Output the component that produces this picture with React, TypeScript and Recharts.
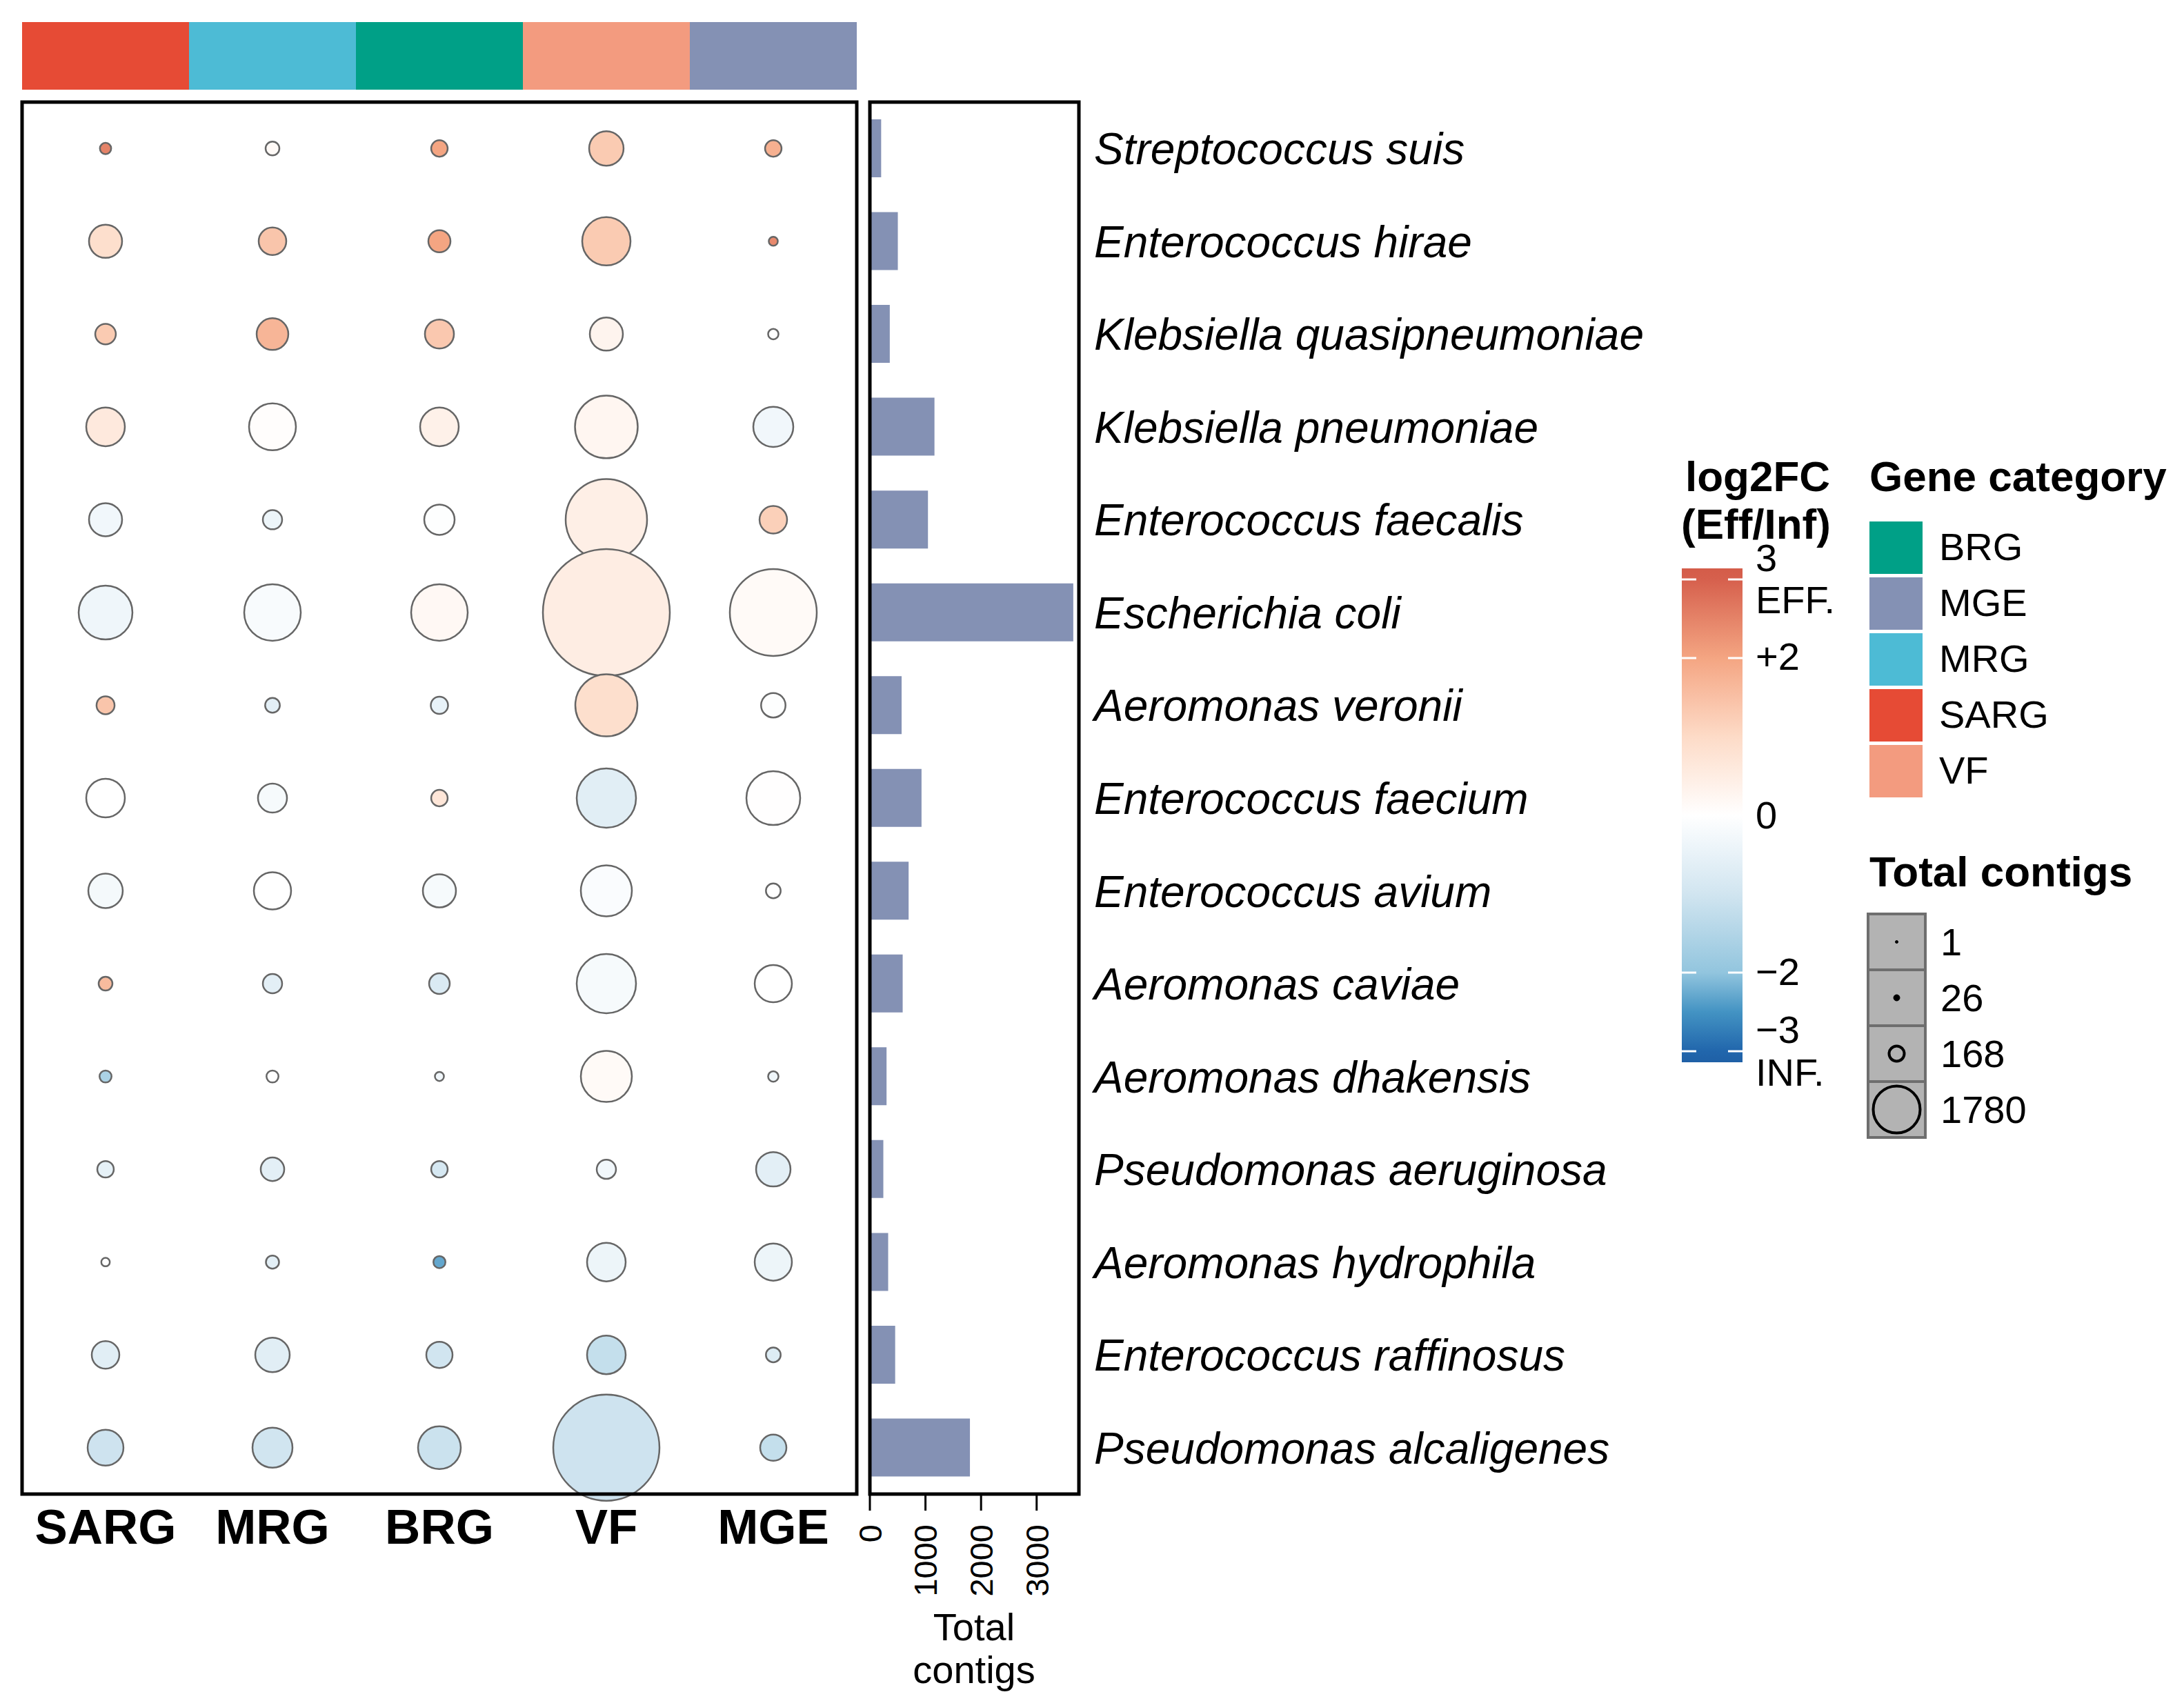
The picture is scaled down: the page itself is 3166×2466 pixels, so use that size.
import React from 'react';
import { ScatterChart, Scatter, XAxis, YAxis, ZAxis, Cell, BarChart, Bar } from 'recharts';

const FONT = '"Liberation Sans", Arial, Helvetica, sans-serif';

// gene categories, in plot order
const categories = ['SARG', 'MRG', 'BRG', 'VF', 'MGE'];
const categoryColors = ['#E64B35', '#4DBBD5', '#00A087', '#F39B7F', '#8491B4'];

// legend order is alphabetical
const legendCategories = ['BRG', 'MGE', 'MRG', 'SARG', 'VF'];
const legendColors = ['#00A087', '#8491B4', '#4DBBD5', '#E64B35', '#F39B7F'];

const species = [
  'Streptococcus suis',
  'Enterococcus hirae',
  'Klebsiella quasipneumoniae',
  'Klebsiella pneumoniae',
  'Enterococcus faecalis',
  'Escherichia coli',
  'Aeromonas veronii',
  'Enterococcus faecium',
  'Enterococcus avium',
  'Aeromonas caviae',
  'Aeromonas dhakensis',
  'Pseudomonas aeruginosa',
  'Aeromonas hydrophila',
  'Enterococcus raffinosus',
  'Pseudomonas alcaligenes',
];

const totalContigs = [203, 503, 358, 1162, 1045, 3659, 571, 929, 697, 590, 300, 242, 329, 455, 1800];

// contigs per category (bubble size), one value per species
const sargContigs = [14, 121, 47, 165, 121, 320, 36, 165, 131, 21, 16, 30, 8, 84, 142];
const mrgContigs = [21, 84, 111, 243, 41, 354, 24, 93, 153, 41, 16, 61, 19, 131, 177];
const brgContigs = [30, 54, 93, 165, 102, 354, 33, 30, 121, 47, 9, 30, 16, 76, 202];
const vfContigs = [131, 258, 121, 435, 732, 1780, 426, 389, 288, 389, 288, 41, 165, 165, 1247];
const mgeContigs = [30, 9, 12, 177, 84, 835, 66, 320, 24, 153, 12, 131, 153, 24, 76];

// log2 fold change (Eff/Inf), one value per species
const sargFC = [2.5, 0.9, 1.3, 0.6, -0.3, -0.35, 1.4, 0.0, -0.25, 1.6, -1.6, -0.55, 0.0, -0.65, -1.05];
const mrgFC = [0.15, 1.4, 1.7, 0.05, -0.4, -0.15, -0.6, -0.2, 0.0, -0.6, 0.0, -0.6, -0.6, -0.65, -1.0];
const brgFC = [2.0, 2.0, 1.35, 0.4, -0.05, 0.2, -0.5, 0.7, -0.2, -0.8, -0.3, -0.9, -2.3, -1.0, -1.1];
const vfFC = [1.3, 1.3, 0.3, 0.25, 0.45, 0.5, 0.9, -0.65, -0.1, -0.2, 0.15, -0.3, -0.4, -1.2, -1.05];
const mgeFC = [1.8, 2.4, 0.0, -0.3, 1.2, 0.15, -0.05, 0.02, 0.0, 0.0, -0.35, -0.6, -0.4, -0.75, -1.2];

const barTicks = [0, 1000, 2000, 3000];
const sizeBreaks = ['1', '26', '168', '1780'];

const contigCols = [sargContigs, mrgContigs, brgContigs, vfContigs, mgeContigs];
const fcCols = [sargFC, mrgFC, brgFC, vfFC, mgeFC];

const fcStops: [number, string][] = [
  [-3.2, '#1E5EA4'],
  [-3, '#2166AC'],
  [-2.5, '#4393C3'],
  [-2, '#92C5DE'],
  [-1, '#D1E5F0'],
  [0, '#FFFFFF'],
  [1, '#FDDBC7'],
  [2, '#F4A582'],
  [3, '#D6604D'],
  [3.2, '#D35A48'],
];

const hexToRgb = (h: string) => [1, 3, 5].map((i) => parseInt(h.slice(i, i + 2), 16));

const fcColor = (v: number) => {
  if (v <= fcStops[0][0]) return fcStops[0][1];
  for (let i = 1; i < fcStops.length; i++) {
    const [v1, c1] = fcStops[i];
    const [v0, c0] = fcStops[i - 1];
    if (v <= v1) {
      const t = (v - v0) / (v1 - v0);
      const a = hexToRgb(c0);
      const b = hexToRgb(c1);
      const rgb = a.map((x, k) => Math.round(x + (b[k] - x) * t));
      return `rgb(${rgb.join(',')})`;
    }
  }
  return fcStops[fcStops.length - 1][1];
};

const dotData = species.flatMap((s, i) =>
  categories.map((c, j) => ({ x: j, y: i, z: contigCols[j][i], fc: fcCols[j][i], species: s, cat: c }))
);
const barData = species.map((s, i) => ({ species: s, total: totalContigs[i] }));
const stripData = categories.map((c) => ({ cat: c, v: 1 }));

const CategoryTick = (props: any) => {
  const { x, y, payload } = props;
  return (
    <text x={x} y={y + 72} textAnchor="middle" fontFamily={FONT} fontWeight="bold" fontSize={71} fill="#000">
      {categories[payload.value]}
    </text>
  );
};

const SpeciesTick = (props: any) => {
  const { x, y, payload } = props;
  return (
    <text x={x} y={y} dy={23} textAnchor="start" fontFamily={FONT} fontStyle="italic" fontSize={64} fill="#000">
      {payload.value}
    </text>
  );
};

const CountTick = (props: any) => {
  const { x, y, payload } = props;
  return (
    <text
      x={x}
      y={y}
      dy="0.36em"
      textAnchor="end"
      transform={`rotate(-90, ${x}, ${y})`}
      fontFamily={FONT}
      fontSize={47}
      fill="#000"
    >
      {payload.value}
    </text>
  );
};

// colour bar geometry
const cbTop = 824;
const cbBottom = 1540;
const cbZero = 1182;
const cbUnit = 114;
const cbY = (v: number) => cbZero - cbUnit * v;

const Legends = () => {
  const vTop = (cbZero - cbTop) / cbUnit;
  const vBot = (cbZero - cbBottom) / cbUnit;
  const gradVals = [vTop, 3, 2.5, 2, 1.5, 1, 0.5, 0, -0.5, -1, -1.5, -2, -2.5, -3, vBot];
  const cbLabels: [string, number][] = [
    ['3', 808], ['EFF.', 869], ['+2', 951], ['0', 1181], ['\u22122', 1408], ['\u22123', 1492], ['INF.', 1554],
  ];
  const swY = [756, 837, 918, 999, 1080];
  const keyY = [1325, 1406, 1487, 1568];
  return (
    <svg width={3166} height={2466} style={{ position: 'absolute', left: 0, top: 0, pointerEvents: 'none' }}>
      <defs>
        <linearGradient id="fcGrad" x1="0" y1="0" x2="0" y2="1">
          {gradVals.map((v, i) => (
            <stop key={i} offset={(vTop - v) / (vTop - vBot)} stopColor={fcColor(v)} />
          ))}
        </linearGradient>
      </defs>
      {/* panel frames */}
      <rect x={32} y={148} width={1210} height={2018} fill="none" stroke="#000" strokeWidth={5} />
      <rect x={1261} y={148} width={303} height={2018} fill="none" stroke="#000" strokeWidth={5} />

      {/* bar axis title */}
      <text x={1412} y={2378} textAnchor="middle" fontFamily={FONT} fontSize={56}>Total</text>
      <text x={1412} y={2440} textAnchor="middle" fontFamily={FONT} fontSize={56}>contigs</text>

      {/* log2FC colour bar */}
      <text x={2443} y={712} fontFamily={FONT} fontWeight="bold" fontSize={62}>log2FC</text>
      <text x={2437} y={781} fontFamily={FONT} fontWeight="bold" fontSize={62}>(Eff/Inf)</text>
      <rect x={2438} y={cbTop} width={88} height={cbBottom - cbTop} fill="url(#fcGrad)" />
      {[3, 2, -2, -3].map((v) => (
        <g key={v}>
          <line x1={2438} x2={2459} y1={cbY(v)} y2={cbY(v)} stroke="#fff" strokeWidth={3} />
          <line x1={2505} x2={2526} y1={cbY(v)} y2={cbY(v)} stroke="#fff" strokeWidth={3} />
        </g>
      ))}
      {cbLabels.map(([t, y]) => (
        <text key={t} x={2545} y={y + 20} fontFamily={FONT} fontSize={56}>{t}</text>
      ))}

      {/* gene category */}
      <text x={2710} y={712} fontFamily={FONT} fontWeight="bold" fontSize={62}>Gene category</text>
      {legendCategories.map((c, i) => (
        <g key={c}>
          <rect x={2710} y={swY[i]} width={77} height={76} fill={legendColors[i]} />
          <text x={2811} y={swY[i] + 38 + 18} fontFamily={FONT} fontSize={56}>{c}</text>
        </g>
      ))}

      {/* size legend */}
      <text x={2710} y={1285} fontFamily={FONT} fontWeight="bold" fontSize={62}>Total contigs</text>
      {sizeBreaks.map((b, i) => {
        const cy = keyY[i] + 40.5;
        const r = [2, 4.5, 11, 34][i];
        return (
          <g key={b}>
            <rect x={2708} y={keyY[i]} width={83} height={81} fill="#B3B3B3" stroke="#6E6E6E" strokeWidth={4} />
            <circle cx={2749.5} cy={cy} r={r} fill={i < 2 ? '#000' : 'none'} stroke="#000" strokeWidth={i < 2 ? 1 : 4} />
            <text x={2813} y={cy + 19} fontFamily={FONT} fontSize={56}>{b}</text>
          </g>
        );
      })}
    </svg>
  );
};

const App: React.FC = () => {
  return (
    <div style={{ position: 'absolute', left: 0, top: 0, width: 3166, height: 2466, background: '#fff', fontFamily: FONT }}>
      {/* category strip */}
      <div style={{ position: 'absolute', left: 32, top: 32 }}>
        <BarChart width={1210} height={98} data={stripData} margin={{ top: 0, right: 0, bottom: 0, left: 0 }} barCategoryGap={0}>
          <XAxis dataKey="cat" hide />
          <YAxis hide width={0} domain={[0, 1]} />
          <Bar dataKey="v" isAnimationActive={false}>
            {stripData.map((d, i) => (
              <Cell key={d.cat} fill={categoryColors[i]} />
            ))}
          </Bar>
        </BarChart>
      </div>

      {/* bubble matrix */}
      <div style={{ position: 'absolute', left: 32, top: 148 }}>
        <ScatterChart width={1210} height={2018 + 110} margin={{ top: 0, right: 0, bottom: 0, left: 0 }}>
          <XAxis
            type="number"
            dataKey="x"
            domain={[-0.5, 4.5]}
            ticks={[0, 1, 2, 3, 4]}
            interval={0}
            height={110}
            axisLine={false}
            tickLine={false}
            tickSize={0}
            tickMargin={0}
            tick={<CategoryTick />}
          />
          <YAxis type="number" dataKey="y" domain={[-0.5, 14.5]} reversed hide width={0} />
          <ZAxis type="number" dataKey="z" domain={[0, 1780]} range={[0, 26590]} />
          <Scatter data={dotData} stroke="#666666" strokeWidth={2.5} isAnimationActive={false}>
            {dotData.map((d, i) => (
              <Cell key={i} fill={fcColor(d.fc)} />
            ))}
          </Scatter>
        </ScatterChart>
      </div>

      {/* total contigs bars */}
      <div style={{ position: 'absolute', left: 1221, top: 148 }}>
        <BarChart
          width={40 + 303 + 840}
          height={2018 + 300}
          layout="vertical"
          data={barData}
          margin={{ top: 0, right: 0, bottom: 0, left: 40 }}
        >
          <XAxis
            type="number"
            dataKey="total"
            domain={[0, 3760]}
            ticks={barTicks}
            interval={0}
            height={300}
            axisLine={false}
            tickLine={{ stroke: '#000', strokeWidth: 3 }}
            tickSize={24}
            tickMargin={20}
            tick={<CountTick />}
          />
          <YAxis
            type="category"
            dataKey="species"
            orientation="right"
            width={840}
            interval={0}
            axisLine={false}
            tickLine={false}
            tickSize={0}
            tickMargin={22}
            tick={<SpeciesTick />}
          />
          <Bar dataKey="total" fill="#8491B4" barSize={84} isAnimationActive={false} />
        </BarChart>
      </div>

      <Legends />
    </div>
  );
};

export default App;
